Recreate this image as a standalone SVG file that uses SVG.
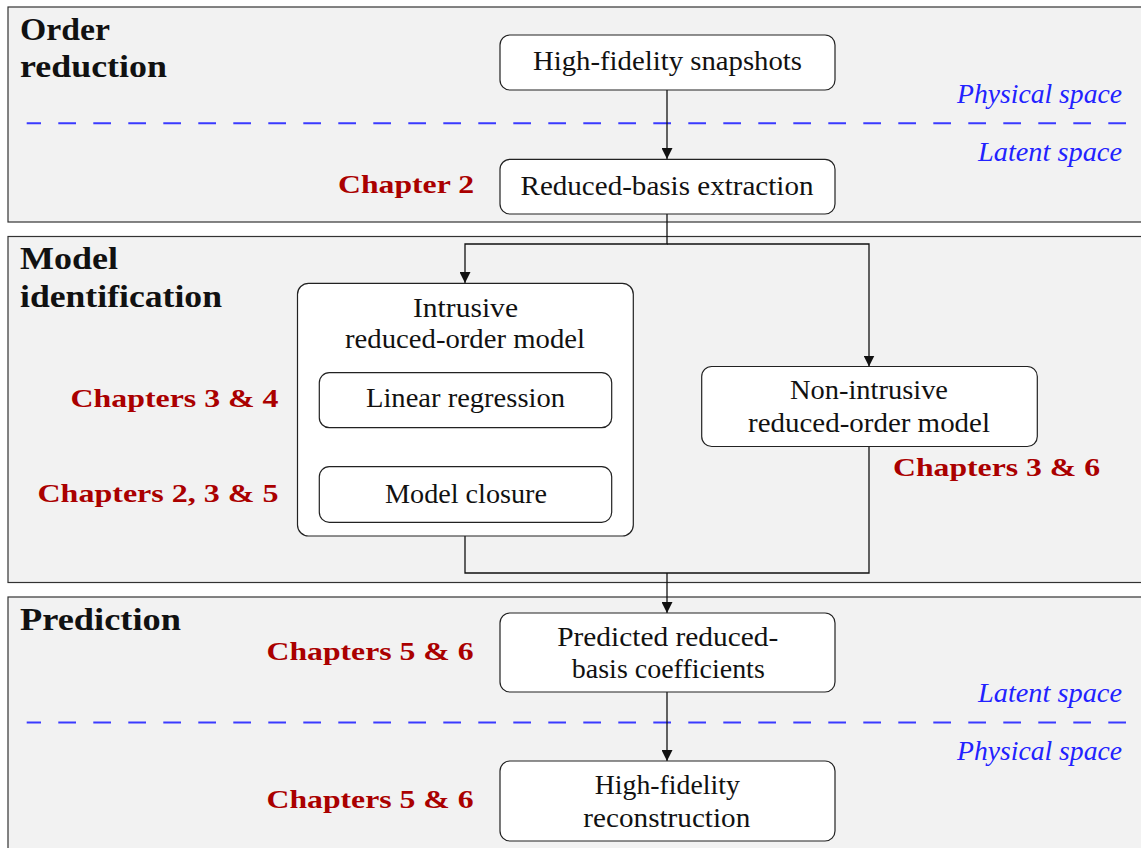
<svg xmlns="http://www.w3.org/2000/svg" width="1141" height="848" viewBox="0 0 1141 848">
<style>
.panel{fill:#f2f2f2;stroke:#333;stroke-width:1.2}
.box{fill:#fff;stroke:#222;stroke-width:1.2}
text{font-family:"Liberation Serif","DejaVu Serif",serif}
.t{font-size:27px;fill:#111;text-anchor:middle}
.h{font-size:31px;font-weight:bold;fill:#111}
.ch{font-size:26px;font-weight:bold;fill:#aa0000}
.sp{font-size:26.5px;font-style:italic;fill:#2222ff;text-anchor:end}
.dash{stroke:#3a3aff;stroke-width:2;stroke-dasharray:17.7 17.3;fill:none}
.c{stroke:#111;stroke-width:1.3;fill:none}
</style>
<defs>
<marker id="arr" viewBox="0 0 11 11" refX="11" refY="5.5" markerWidth="11" markerHeight="11" markerUnits="userSpaceOnUse" orient="auto">
<path d="M0,0 L11,5.5 L0,11 z" fill="#111"/>
</marker>
</defs>
<g id="panels">
<rect class="panel" x="8" y="7" width="1140" height="215"/>
<rect class="panel" x="8" y="236.5" width="1140" height="346"/>
<rect class="panel" x="8" y="597" width="1140" height="260"/>
<text class="h" x="20" y="40" textLength="90" lengthAdjust="spacingAndGlyphs">Order</text>
<text class="h" x="20" y="77" textLength="147" lengthAdjust="spacingAndGlyphs">reduction</text>
<text class="h" x="20" y="269" textLength="98" lengthAdjust="spacingAndGlyphs">Model</text>
<text class="h" x="20" y="306.5" textLength="202" lengthAdjust="spacingAndGlyphs">identification</text>
<text class="h" x="20" y="630" textLength="161" lengthAdjust="spacingAndGlyphs">Prediction</text>
<line class="dash" x1="26.7" y1="123.3" x2="1130" y2="123.3" stroke-dashoffset="3.4"/>
<line class="dash" x1="26.7" y1="722.5" x2="1130" y2="722.5" stroke-dashoffset="3.4"/>
<text class="sp" x="1122" y="103.3" textLength="165" lengthAdjust="spacingAndGlyphs">Physical space</text>
<text class="sp" x="1122" y="160.7" textLength="144" lengthAdjust="spacingAndGlyphs">Latent space</text>
<text class="sp" x="1122" y="701.5" textLength="144" lengthAdjust="spacingAndGlyphs">Latent space</text>
<text class="sp" x="1122" y="760" textLength="165" lengthAdjust="spacingAndGlyphs">Physical space</text>
</g>
<g id="labels">
<text class="ch" x="474" y="193.3" text-anchor="end" textLength="136" lengthAdjust="spacingAndGlyphs">Chapter 2</text>
<text class="ch" x="278.5" y="406.7" text-anchor="end" textLength="208" lengthAdjust="spacingAndGlyphs">Chapters 3 &amp; 4</text>
<text class="ch" x="278.5" y="501.7" text-anchor="end" textLength="241" lengthAdjust="spacingAndGlyphs">Chapters 2, 3 &amp; 5</text>
<text class="ch" x="893" y="476" textLength="207" lengthAdjust="spacingAndGlyphs">Chapters 3 &amp; 6</text>
<text class="ch" x="473.5" y="660" text-anchor="end" textLength="207" lengthAdjust="spacingAndGlyphs">Chapters 5 &amp; 6</text>
<text class="ch" x="473.5" y="808.3" text-anchor="end" textLength="207" lengthAdjust="spacingAndGlyphs">Chapters 5 &amp; 6</text>
</g>
<g id="connectors">
<line class="c" x1="667" y1="90" x2="667" y2="159" marker-end="url(#arr)"/>
<polyline class="c" points="667,214 667,244 465,244 465,283" marker-end="url(#arr)"/>
<polyline class="c" points="667,244 869,244 869,366.5" marker-end="url(#arr)"/>
<line class="c" x1="465" y1="427.5" x2="465" y2="467" marker-end="url(#arr)"/>
<polyline class="c" points="465,536 465,573 869,573 869,446.5"/>
<line class="c" x1="667" y1="573" x2="667" y2="613" marker-end="url(#arr)"/>
<line class="c" x1="667" y1="692" x2="667" y2="761" marker-end="url(#arr)"/>
</g>
<g id="n-snapshots">
<rect class="box" x="500" y="35" width="335" height="55" rx="10"/>
<text class="t" x="667.5" y="70" textLength="269" lengthAdjust="spacingAndGlyphs">High-fidelity snapshots</text>
</g>
<g id="n-extraction">
<rect class="box" x="500" y="159.3" width="335" height="54.7" rx="10"/>
<text class="t" x="667" y="195" textLength="293" lengthAdjust="spacingAndGlyphs">Reduced-basis extraction</text>
</g>
<g id="n-intrusive">
<rect class="box" x="297.5" y="283.3" width="335.8" height="252.7" rx="11"/>
<text class="t" x="465.5" y="316.7" textLength="105" lengthAdjust="spacingAndGlyphs">Intrusive</text>
<text class="t" x="465" y="348" textLength="240" lengthAdjust="spacingAndGlyphs">reduced-order model</text>
</g>
<g id="n-linear">
<rect class="box" x="319.3" y="372.7" width="292.4" height="55" rx="10"/>
<text class="t" x="465.5" y="406.7" textLength="199" lengthAdjust="spacingAndGlyphs">Linear regression</text>
</g>
<g id="n-closure">
<rect class="box" x="319.3" y="466.7" width="292.4" height="55.6" rx="10"/>
<text class="t" x="466" y="503" textLength="162" lengthAdjust="spacingAndGlyphs">Model closure</text>
</g>
<g id="n-nonintrusive">
<rect class="box" x="701.7" y="366.5" width="335.6" height="80" rx="10"/>
<text class="t" x="869" y="399.3" textLength="158" lengthAdjust="spacingAndGlyphs">Non-intrusive</text>
<text class="t" x="869" y="431.7" textLength="242" lengthAdjust="spacingAndGlyphs">reduced-order model</text>
</g>
<g id="n-predicted">
<rect class="box" x="500" y="613" width="335" height="79" rx="10"/>
<text class="t" x="667.7" y="646" textLength="221" lengthAdjust="spacingAndGlyphs">Predicted reduced-</text>
<text class="t" x="668.3" y="677.5" textLength="193" lengthAdjust="spacingAndGlyphs">basis coefficients</text>
</g>
<g id="n-reconstruction">
<rect class="box" x="500" y="761" width="335" height="80" rx="10"/>
<text class="t" x="667.3" y="793.5" textLength="145" lengthAdjust="spacingAndGlyphs">High-fidelity</text>
<text class="t" x="666.8" y="827" textLength="167" lengthAdjust="spacingAndGlyphs">reconstruction</text>
</g>
</svg>
